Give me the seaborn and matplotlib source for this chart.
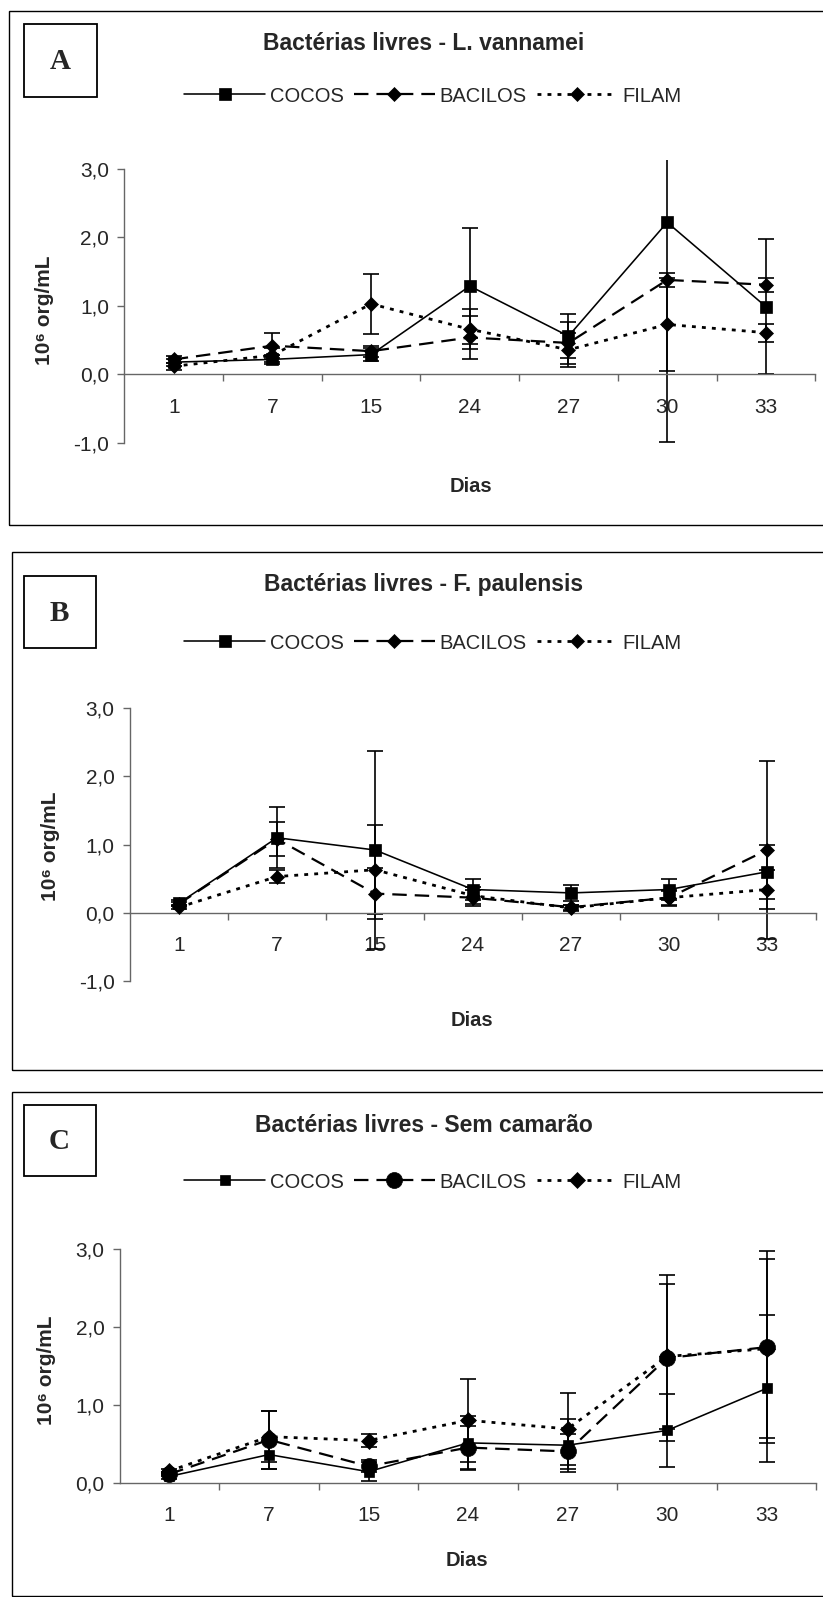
import matplotlib
matplotlib.use("Agg")
import matplotlib.pyplot as plt
from matplotlib.patches import Rectangle
from matplotlib.ticker import FixedLocator, FuncFormatter, NullFormatter
import numpy as np
import seaborn as sns

# ---------------------------------------------------------------- data
dias = ["1", "7", "15", "24", "27", "30", "33"]
grupos = ["COCOS", "BACILOS", "FILAM"]

# A - L. vannamei
a_cocos = [0.18, 0.22, 0.29, 1.29, 0.56, 2.22, 0.99]
a_cocos_dp = [0.05, 0.07, 0.10, 0.85, 0.32, 3.20, 0.99]
a_bacilos = [0.22, 0.42, 0.34, 0.54, 0.46, 1.38, 1.31]
a_bacilos_dp = [0.05, 0.18, 0.08, 0.31, 0.30, 0.10, 0.10]
a_filam = [0.12, 0.28, 1.03, 0.66, 0.36, 0.73, 0.61]
a_filam_dp = [0.05, 0.10, 0.44, 0.29, 0.25, 0.68, 0.13]

# B - F. paulensis
b_cocos = [0.14, 1.10, 0.92, 0.34, 0.29, 0.34, 0.60]
b_cocos_dp = [0.04, 0.45, 1.45, 0.15, 0.12, 0.15, 0.40]
b_bacilos = [0.13, 1.08, 0.28, 0.22, 0.08, 0.22, 0.92]
b_bacilos_dp = [0.03, 0.25, 0.38, 0.12, 0.04, 0.10, 1.30]
b_filam = [0.08, 0.53, 0.63, 0.25, 0.07, 0.22, 0.34]
b_filam_dp = [0.03, 0.09, 0.65, 0.12, 0.04, 0.12, 0.28]

# C - Sem camarão
c_cocos = [0.08, 0.36, 0.14, 0.51, 0.48, 0.67, 1.21]
c_cocos_dp = [0.03, 0.18, 0.12, 0.35, 0.34, 0.47, 0.94]
c_bacilos = [0.11, 0.55, 0.21, 0.45, 0.40, 1.60, 1.74]
c_bacilos_dp = [0.03, 0.37, 0.08, 0.28, 0.22, 1.07, 1.23]
c_filam = [0.15, 0.59, 0.54, 0.80, 0.69, 1.62, 1.72]
c_filam_dp = [0.03, 0.33, 0.08, 0.53, 0.46, 0.93, 1.15]

# ---------------------------------------------------------------- style
sns.set_style("white")
plt.rcParams["font.family"] = ["Liberation Sans", "DejaVu Sans"]
plt.rcParams["axes.linewidth"] = 1.0

W, H = 823, 1597
fig = plt.figure(figsize=(W / 100, H / 100), dpi=100)
fig.patch.set_facecolor("white")

AXIS_COLOR = "0.40"
line_kw = {
    "COCOS": dict(linestyle="-", linewidth=1.15),
    "BACILOS": dict(linestyle=(0, (6.5, 3.6)), linewidth=1.6),
    "FILAM": dict(linestyle=(0, (1.4, 2.2)), linewidth=2.0),
}


def fx(x):
    return x / W


def fy(y):
    return 1 - y / H


def add_axes_px(x0, x1, y0, y1):
    return fig.add_axes([fx(x0), fy(y1), (x1 - x0) / W, (y1 - y0) / H])


def frame_px(x0, y0, x1, y1, lw=1.0):
    fig.add_artist(Rectangle((fx(x0), fy(y1)), (x1 - x0) / W, (y1 - y0) / H,
                             transform=fig.transFigure, fill=False,
                             edgecolor="black", linewidth=lw))


def comma(v, _pos=None):
    return f"{v:.1f}".replace(".", ",")


paineis = [
    dict(letra="A", titulo="Bactérias livres - L. vannamei",
         frame=(9, 11, 840, 525), box=(24, 24, 97, 97),
         ax=(124.4, 815.2, 160.0, 443.0), ylim=(-1.0, 3.13), yb=(-1, 3),
         yticks=[-1, 0, 1, 2, 3],
         tit_y=44, leg_y=96, dias_xy=(471, 487), ylab_xy=(45, 310),
         dados=[(a_cocos, a_cocos_dp), (a_bacilos, a_bacilos_dp), (a_filam, a_filam_dp)],
         markers=[("s", 8.0), ("D", 7.4), ("D", 7.4)]),
    dict(letra="B", titulo="Bactérias livres - F. paulensis",
         frame=(11.5, 551.6, 840, 1070), box=(23.6, 576.4, 95.5, 647.7),
         ax=(130.0, 816.0, 708.3, 980.8), ylim=(-1.0, 3.0), yb=(-1, 3),
         yticks=[-1, 0, 1, 2, 3],
         tit_y=585, leg_y=643, dias_xy=(472, 1020), ylab_xy=(50, 846),
         dados=[(b_cocos, b_cocos_dp), (b_bacilos, b_bacilos_dp), (b_filam, b_filam_dp)],
         markers=[("s", 8.0), ("D", 6.8), ("D", 6.8)]),
    dict(letra="C", titulo="Bactérias livres - Sem camarão",
         frame=(11.5, 1091.9, 840, 1595.5), box=(23.6, 1105, 95.5, 1176),
         ax=(119.7, 816.4, 1249.0, 1482.6), ylim=(0.0, 3.0), yb=(0, 3),
         yticks=[0, 1, 2, 3],
         tit_y=1125, leg_y=1182, dias_xy=(467, 1561), ylab_xy=(46, 1370),
         dados=[(c_cocos, c_cocos_dp), (c_bacilos, c_bacilos_dp), (c_filam, c_filam_dp)],
         markers=[("s", 6.5), ("o", 11.5), ("D", 8.5)]),
]

xpos = np.arange(len(dias))

for p in paineis:
    frame_px(*p["frame"], lw=1.0)
    bx0, by0, bx1, by1 = p["box"]
    frame_px(bx0, by0, bx1, by1, lw=1.3)
    fig.text(fx((bx0 + bx1) / 2), fy((by0 + by1) / 2 + 1), p["letra"],
             family="Liberation Serif", fontweight="bold", fontsize=21,
             ha="center", va="center")
    fig.text(fx(424), fy(p["tit_y"]), p["titulo"], fontsize=16.5,
             fontweight="bold", ha="center", va="center")

    ax = add_axes_px(*p["ax"])
    ax.set_facecolor("none")

    for nome, (vals, dp), (mk, ms) in zip(grupos, p["dados"], p["markers"]):
        ax.errorbar(xpos, vals, yerr=dp, fmt="none", ecolor="black",
                    elinewidth=1.2, capsize=5.5, capthick=1.2, zorder=2)
        sns.lineplot(x=xpos, y=vals, ax=ax, color="black", marker=mk,
                     markersize=ms, markerfacecolor="black",
                     markeredgecolor="black", markeredgewidth=0.5,
                     label=nome, errorbar=None, zorder=3, **line_kw[nome])

    ax.set_xlim(-0.5, len(dias) - 0.5)
    ax.set_ylim(*p["ylim"])
    ax.set_xlabel("")
    ax.set_ylabel("")

    for s in ("top", "right"):
        ax.spines[s].set_visible(False)
    ax.spines["bottom"].set_position(("data", 0))
    ax.spines["left"].set_bounds(*p["yb"])
    for s in ("left", "bottom"):
        ax.spines[s].set_color(AXIS_COLOR)
        ax.spines[s].set_linewidth(1.0)

    ax.yaxis.set_major_locator(FixedLocator(p["yticks"]))
    ax.yaxis.set_major_formatter(FuncFormatter(comma))
    ax.tick_params(axis="y", direction="out", length=5, width=1.0,
                   color=AXIS_COLOR, labelsize=15, pad=6, left=True)

    ax.xaxis.set_major_locator(FixedLocator(xpos))
    ax.set_xticklabels(dias)
    ax.xaxis.set_minor_locator(FixedLocator(np.arange(0.5, len(dias), 1.0)))
    ax.xaxis.set_minor_formatter(NullFormatter())
    ax.tick_params(axis="x", which="major", length=0, labelsize=15, pad=17,
                   bottom=True)
    ax.tick_params(axis="x", which="minor", direction="out", length=5,
                   width=1.0, color=AXIS_COLOR, bottom=True)
    ax.grid(False)

    handles, labels = ax.get_legend_handles_labels()
    ax.legend(handles, labels, loc="center", ncol=3,
              bbox_to_anchor=(fx(433), fy(p["leg_y"])),
              bbox_transform=fig.transFigure, frameon=False, fontsize=14.5,
              handlelength=4.0, handletextpad=0.25, columnspacing=0.5,
              borderaxespad=0, borderpad=0)

    dx, dy = p["dias_xy"]
    fig.text(fx(dx), fy(dy), "Dias", fontsize=14.5, fontweight="bold",
             ha="center", va="center")
    lx, ly = p["ylab_xy"]
    fig.text(fx(lx), fy(ly), "10⁶ org/mL", fontsize=15, fontweight="bold",
             rotation=90, ha="center", va="center")

fig.savefig("out.png", dpi=100, facecolor="white")
